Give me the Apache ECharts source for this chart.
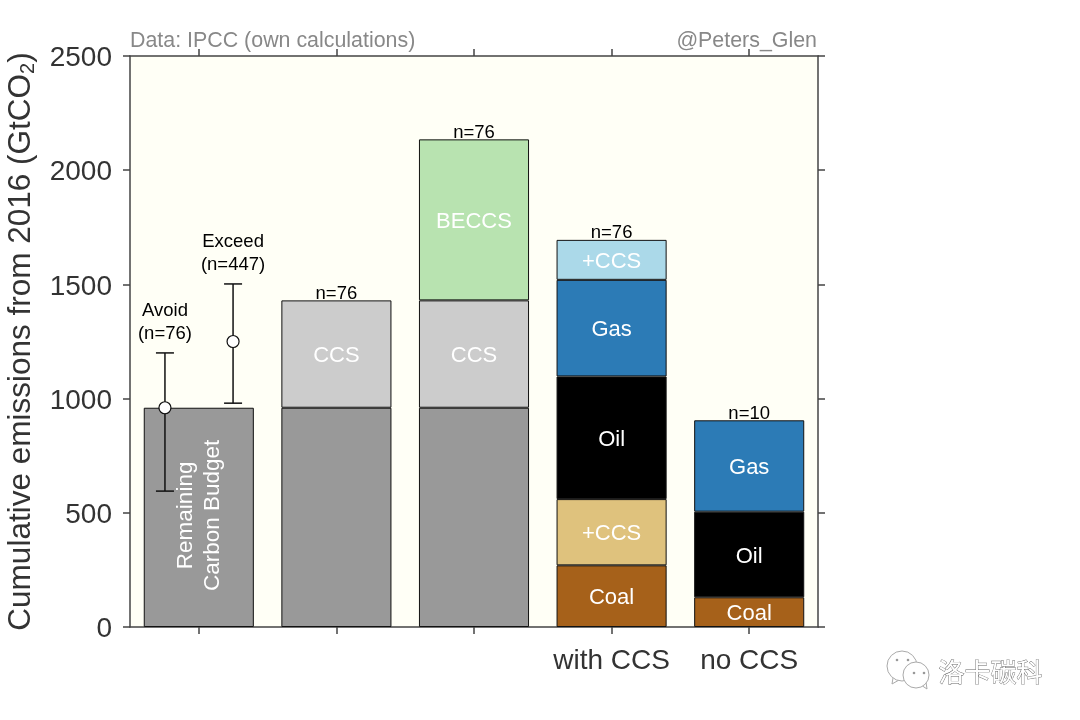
<!DOCTYPE html>
<html>
<head>
<meta charset="utf-8">
<style>html,body{margin:0;padding:0;background:#fff}#main{width:1080px;height:720px}</style>
<script src="https://cdn.jsdelivr.net/npm/echarts@6/dist/echarts.min.js"></script>
</head>
<body>
<div id="main"></div>
<script>
var categories = ['', '', '', 'with CCS', 'no CCS'];
var budget  = [960, 960, 960, null, null];
var ccs     = [null, 470, 470, null, null];
var beccs   = [null, null, 705, null, null];
var coal    = [null, null, null, 270, 130];
var coalCcs = [null, null, null, 290, null];
var oil     = [null, null, null, 537, 375];
var gas     = [null, null, null, 423, 400];
var gasCcs  = [null, null, null, 175, null];
var totals  = [null, 1430, 2135, 1695, 905];
var totalLabels = ['', 'n=76', 'n=76', 'n=76', 'n=10'];
// x in category widths from the left edge, low, high, middle
var ranges = [[0.254, 595, 1200, 960], [0.749, 980, 1502, 1250]];
var rangeLabels = ['Avoid\n(n=76)', 'Exceed\n(n=447)'];

var font = '"Liberation Sans"';
var axisColor = '#444';
var myChart = echarts.init(document.getElementById('main'));

function segment(name, values, color, text) {
    return {
        name: name,
        type: 'bar',
        stack: 'total',
        barWidth: '80%',
        data: values,
        itemStyle: {color: color, borderColor: '#111', borderWidth: 1},
        label: {
            show: !!text,
            position: 'inside',
            offset: [0, 2],
            formatter: text || '',
            color: '#fff',
            fontSize: 22,
            fontFamily: font
        }
    };
}

var budgetSeries = segment('Budget', budget, '#999999', '');
budgetSeries.data = budget.map(function (v, i) {
    return i === 0 ? {
        value: v,
        label: {
            show: true,
            rotate: 90,
            offset: [2, 0],
            fontSize: 22.5,
            formatter: 'Remaining\nCarbon Budget',
            lineHeight: 27
        }
    } : v;
});

function xAxisAt(position, showLabel) {
    return {
        type: 'category', data: categories, position: position,
        axisLine: {onZero: false, lineStyle: {color: axisColor, width: 1.5}},
        axisTick: {show: true, interval: 0, alignWithLabel: true, length: 7, lineStyle: {color: axisColor, width: 1.5}},
        axisLabel: {show: showLabel, interval: 0, color: '#333', fontSize: 28, margin: 20}
    };
}

function yAxisAt(position) {
    return {
        type: 'value', min: 0, max: 2500, interval: 500, position: position,
        splitLine: {show: false},
        axisLine: {show: true, onZero: false, lineStyle: {color: axisColor, width: 1.5}},
        axisTick: {show: true, length: 7, lineStyle: {color: axisColor, width: 1.5}},
        axisLabel: {
            show: position === 'left', margin: 18,
            formatter: function (v) { return '{tick|' + v + '}'; },
            rich: {tick: {color: '#333', fontSize: 28, padding: [5, 0, 0, 0]}}
        }
    };
}

var leftAxis = yAxisAt('left');
leftAxis.name = 'Cumulative emissions from 2016 (GtCO{sub|2})';
leftAxis.nameLocation = 'middle';
leftAxis.nameGap = 85;
leftAxis.nameTextStyle = {
    color: '#333', fontSize: 31.5,
    rich: {sub: {fontSize: 20, color: '#333', verticalAlign: 'bottom', padding: [14, 0, 0, 0]}}
};

var option = {
    animation: false,
    backgroundColor: '#fff',
    textStyle: {fontFamily: font},
    grid: {
        left: 130, top: 56, width: 688, height: 571,
        outerBoundsMode: 'none',
        show: true, backgroundColor: '#fffff6', borderWidth: 0
    },
    xAxis: [
        xAxisAt('bottom', true),
        xAxisAt('top', false),
        {type: 'value', min: 0, max: 5, show: false}
    ],
    yAxis: [leftAxis, yAxisAt('right')],
    series: [
        budgetSeries,
        segment('CCS', ccs, '#cccccc', 'CCS'),
        segment('BECCS', beccs, '#b8e3b0', 'BECCS'),
        segment('Coal', coal, '#a6611a', 'Coal'),
        segment('Coal CCS', coalCcs, '#dfc27d', '+CCS'),
        segment('Oil', oil, '#000000', 'Oil'),
        segment('Gas', gas, '#2c7bb6', 'Gas'),
        segment('Gas CCS', gasCcs, '#abd9e9', '+CCS'),
        {
            name: 'Totals',
            type: 'scatter',
            symbolSize: 0,
            data: totals,
            z: 5,
            itemStyle: {opacity: 1},
            label: {
                show: true,
                position: 'top',
                distance: -3,
                color: '#000',
                opacity: 1,
                fontSize: 18.5,
                formatter: function (params) {
                    return totalLabels[params.dataIndex];
                }
            }
        },
        {
            name: 'Ranges',
            type: 'custom',
            xAxisIndex: 2,
            z: 6,
            data: ranges,
            encode: {x: 0, y: [1, 2, 3]},
            renderItem: function (params, api) {
                var x = api.value(0);
                var low = api.coord([x, api.value(1)]);
                var high = api.coord([x, api.value(2)]);
                var mid = api.coord([x, api.value(3)]);
                var style = {stroke: '#111', lineWidth: 1.5, fill: null};
                return {
                    type: 'group',
                    children: [
                        {type: 'line', shape: {x1: low[0], y1: low[1], x2: high[0], y2: high[1]}, style: style},
                        {type: 'line', shape: {x1: low[0] - 9, y1: low[1], x2: low[0] + 9, y2: low[1]}, style: style},
                        {type: 'line', shape: {x1: high[0] - 9, y1: high[1], x2: high[0] + 9, y2: high[1]}, style: style},
                        {type: 'circle', shape: {cx: mid[0], cy: mid[1], r: 6}, style: {fill: '#fff', stroke: '#111', lineWidth: 1.2}},
                        {
                            type: 'text',
                            style: {
                                text: rangeLabels[params.dataIndex],
                                x: high[0], y: high[1] - 8,
                                align: 'center', verticalAlign: 'bottom',
                                fontSize: 18.5, lineHeight: 23, fontFamily: font, fill: '#000'
                            }
                        }
                    ]
                };
            }
        }
    ],
    graphic: [
        {type: 'text', left: 130, top: 31, style: {text: 'Data: IPCC (own calculations)', fontSize: 21.4, fontFamily: font, fill: '#888'}},
        {type: 'text', right: 263, top: 31, style: {text: '@Peters_Glen', fontSize: 21.4, fontFamily: font, fill: '#888'}},
        // watermark bottom right
        {type: 'polyline', shape: {points: [[893, 678], [892, 684], [899, 680]]}, style: {fill: '#fff', stroke: '#aaa', lineWidth: 1}},
        {type: 'circle', shape: {cx: 902, cy: 666, r: 15}, style: {fill: '#fff', stroke: '#aaa', lineWidth: 1}},
        {type: 'circle', shape: {cx: 897, cy: 660, r: 1.3}, style: {fill: '#999'}},
        {type: 'circle', shape: {cx: 908, cy: 660, r: 1.3}, style: {fill: '#999'}},
        {type: 'polyline', shape: {points: [[921, 685], [927, 689], [926, 682]]}, style: {fill: '#fff', stroke: '#aaa', lineWidth: 1}},
        {type: 'circle', shape: {cx: 916, cy: 675, r: 13}, style: {fill: '#fff', stroke: '#aaa', lineWidth: 1}},
        {type: 'circle', shape: {cx: 914, cy: 673, r: 1.3}, style: {fill: '#999'}},
        {type: 'circle', shape: {cx: 924, cy: 673, r: 1.3}, style: {fill: '#999'}},
        {type: 'text', left: 938, top: 659, style: {text: '洛卡碳科', fontSize: 26, fontFamily: '"Noto Sans CJK SC"', fill: '#fff', stroke: '#666', lineWidth: 0.8}}
    ]
};

myChart.setOption(option);
</script>
</body>
</html>
